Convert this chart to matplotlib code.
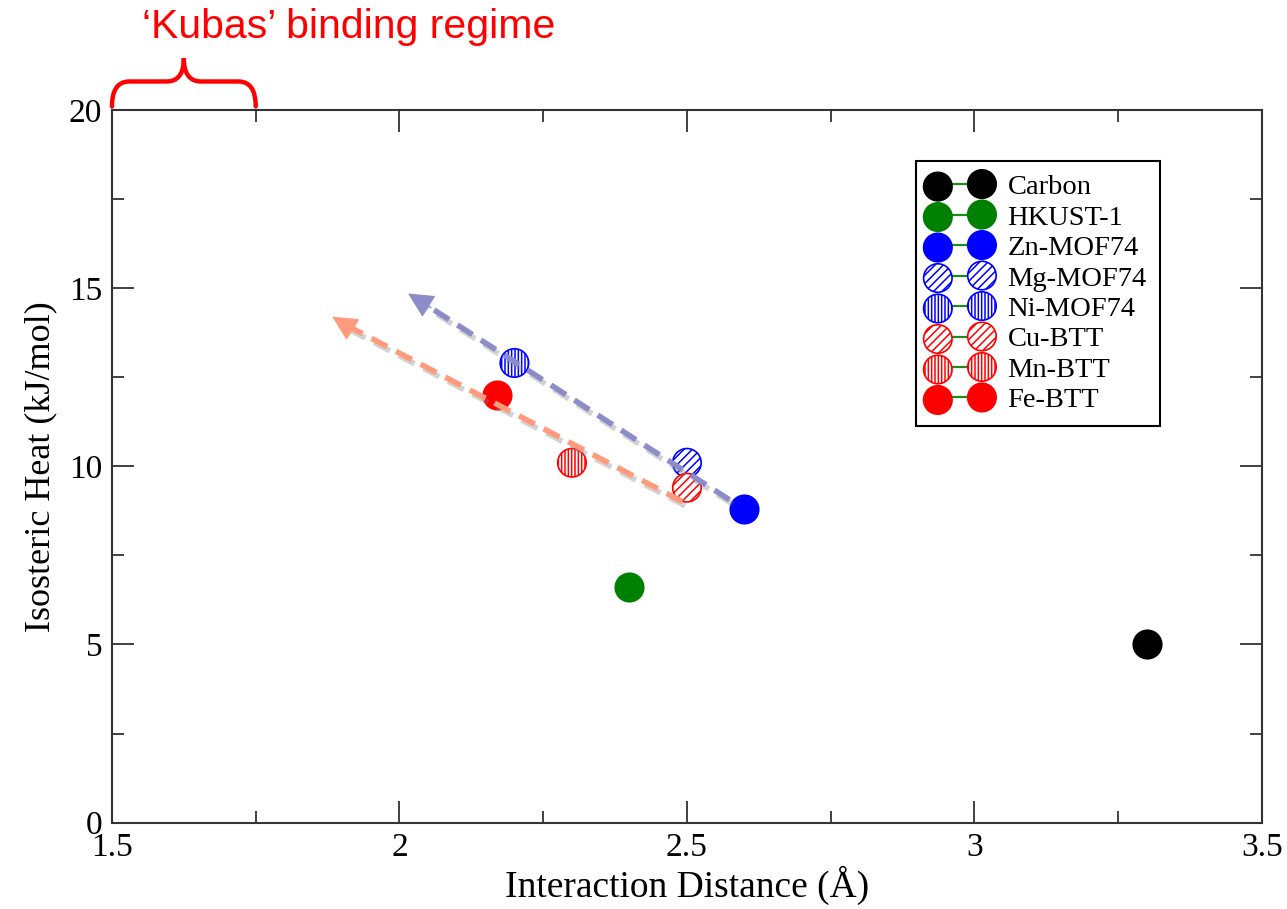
import matplotlib
matplotlib.use("Agg")
import matplotlib.pyplot as plt
import matplotlib.patheffects as pe
from matplotlib.collections import PathCollection
from matplotlib.legend_handler import HandlerTuple
from matplotlib.lines import Line2D
from matplotlib.path import Path
from matplotlib.patches import PathPatch
from matplotlib.ticker import MultipleLocator, FuncFormatter

plt.rcParams['font.family'] = ['Liberation Serif', 'DejaVu Serif']
plt.rcParams['hatch.linewidth'] = 1.1

# materials: interaction distance (A) vs isosteric heat (kJ/mol)
names = ['Carbon', 'HKUST-1', 'Zn-MOF74', 'Mg-MOF74', 'Ni-MOF74',
         'Cu-BTT', 'Mn-BTT', 'Fe-BTT']
distance = [3.30, 2.40, 2.60, 2.50, 2.20, 2.50, 2.30, 2.17]
heat = [5.0, 6.6, 8.8, 10.1, 12.9, 9.4, 10.1, 12.0]
colors = ['black', '#008000', '#0000ff', '#0000ff', '#0000ff',
          '#ff0000', '#ff0000', '#ff0000']
hatches = [None, None, None, '////', '|||||', '////', '|||||', None]

# trend arrows (tail -> head)
mof_arrow = [(2.574, 9.06), (2.015, 14.85)]
btt_arrow = [(2.492, 9.01), (1.883, 14.20)]

kubas_span = (1.5, 1.75)

fig = plt.figure(figsize=(12.87, 9.09), dpi=100)
ax = fig.add_axes([0.087, 0.095, 0.8935, 0.784])

handles = []
for name, x, y, c, h in zip(names, distance, heat, colors, hatches):
    face = 'white' if h else c
    sc = ax.scatter([x], [y], s=420, facecolor=face, edgecolor=c,
                    hatch=h, linewidths=1.2, zorder=3)
    ln = Line2D([], [], color='#1f8a1f', lw=1.6)
    handles.append((ln, sc))

shadow = [pe.SimpleLineShadow(offset=(2, -3), shadow_color='gray', alpha=0.35),
          pe.Normal()]
for (tail, head), col in [(mof_arrow, '#8c8cc9'), (btt_arrow, '#ff9a7c')]:
    ax.plot([tail[0], head[0] + 0.02], [tail[1], head[1] - 0.2], color=col, lw=4,
            dashes=(3.2, 1.8), zorder=4, path_effects=shadow,
            solid_capstyle='butt')
    ax.annotate('', xy=head, xytext=(head[0] + 0.04, head[1] - 0.4),
                arrowprops=dict(arrowstyle='-|>,head_length=0.8,head_width=0.4',
                                mutation_scale=20, color=col, lw=1,
                                shrinkA=0, shrinkB=0),
                zorder=5)

ax.set_xlim(1.5, 3.5)
ax.set_ylim(0, 20)
ax.xaxis.set_major_locator(MultipleLocator(0.5))
ax.xaxis.set_minor_locator(MultipleLocator(0.25))
ax.yaxis.set_major_locator(MultipleLocator(5))
ax.yaxis.set_minor_locator(MultipleLocator(2.5))
fmt = FuncFormatter(lambda v, p: '%g' % v)
ax.xaxis.set_major_formatter(fmt)
ax.yaxis.set_major_formatter(fmt)
ax.tick_params(which='both', direction='in', top=True, right=True,
               color='#333333', width=1.3)
ax.tick_params(which='major', length=16, labelsize=24, pad=7)
ax.tick_params(which='minor', length=8.5)
for sp in ax.spines.values():
    sp.set_linewidth(1.5)
    sp.set_color('#333333')

ax.set_xlabel('Interaction Distance (Å)', fontsize=27, labelpad=2)
ax.set_ylabel('Isosteric Heat (kJ/mol)', fontsize=26, labelpad=8)

leg = ax.legend(handles, names, handler_map={tuple: HandlerTuple(ndivide=1, pad=0)},
                scatterpoints=2, loc='upper left', bbox_to_anchor=(0.6996, 0.928),
                borderaxespad=0, fontsize=20.5, fancybox=False, framealpha=1,
                edgecolor='black', labelspacing=0.16, handlelength=2.15,
                handletextpad=0.6, borderpad=0.45)
leg.get_frame().set_linewidth(1.5)

# hatch colour follows the marker edge colour
for c in fig.findobj(PathCollection):
    c._hatch_color = tuple(c.get_edgecolor()[0])

# 'Kubas' brace above the top axis
x0, x1 = kubas_span
xc = (x0 + x1) / 2
yb, ym, yp = 20.1, 20.8, 21.45
dx = 0.03
verts = [(x0, yb), (x0, ym), (x0 + dx, ym), (xc - dx, ym), (xc, ym), (xc, yp),
         (xc, ym), (xc + dx, ym), (x1 - dx, ym), (x1, ym), (x1, yb)]
codes = [Path.MOVETO, Path.CURVE3, Path.CURVE3, Path.LINETO, Path.CURVE3, Path.CURVE3,
         Path.CURVE3, Path.CURVE3, Path.LINETO, Path.CURVE3, Path.CURVE3]
ax.add_patch(PathPatch(Path(verts, codes), facecolor='none', edgecolor='red',
                       lw=3.2, clip_on=False, capstyle='round'))
fig.text(0.271, 0.970, '‘Kubas’ binding regime', color='red', fontsize=29.5,
         family=['Liberation Sans', 'DejaVu Sans'], ha='center', va='center')

fig.savefig('out.png', dpi=100)
